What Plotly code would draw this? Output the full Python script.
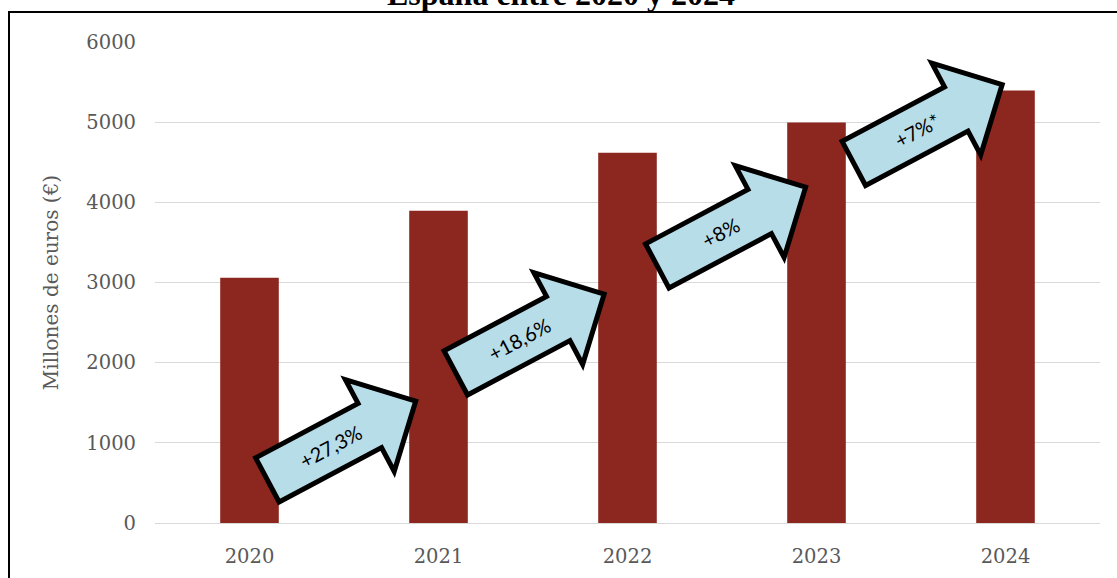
import math
import plotly.graph_objects as go

# Annual spending, millions of euros
years = ["2020", "2021", "2022", "2023", "2024"]
spend = [3060, 3895, 4620, 4995, 5395]
growth_labels = ["+27,3%", "+18,6%", "+8%", "+7%*"]

title_text = "España entre 2020 y 2024"
y_title = "Millones de euros (€)"

W, H = 1117, 578
M_L, M_R, M_T, M_B = 155, 17, 42, 55
PLOT_W = W - M_L - M_R
PLOT_H = H - M_T - M_B
Y_MAX = 6000
PX_X = PLOT_W / len(years)   # pixels per category unit
PX_Y = PLOT_H / Y_MAX        # pixels per euro-million

BAR_COLOR = "#8b271e"
ARROW_FILL = "#b7dde8"
GRID = "#d9d9d9"
TICK_FONT = dict(family="DejaVu Serif", size=19.5, color="#595959")

xs = list(range(len(years)))

fig = go.Figure(go.Bar(x=xs, y=spend, width=0.31, marker=dict(color=BAR_COLOR, line=dict(width=0)),
                       hoverinfo="skip"))


def to_data(px, py):
    return px / PX_X, py / PX_Y


def arrow_shape(cx, cy, ang, L=168, sw=50, hw=104, hl=52):
    """Block arrow centred at (cx, cy) in data units, rotated by ang degrees."""
    a = math.radians(ang)
    local = [(-L / 2, -sw / 2), (L / 2 - hl, -sw / 2), (L / 2 - hl, -hw / 2), (L / 2, 0),
             (L / 2 - hl, hw / 2), (L / 2 - hl, sw / 2), (-L / 2, sw / 2)]
    pts = []
    for s, t in local:
        px = s * math.cos(a) - t * math.sin(a)
        py = s * math.sin(a) + t * math.cos(a)
        dx, dy = to_data(px, py)
        pts.append((cx + dx, cy + dy))
    path = "M " + " L ".join(f"{x:.4f},{y:.2f}" for x, y in pts) + " Z"
    return dict(type="path", xref="x", yref="y", path=path, fillcolor=ARROW_FILL,
                line=dict(color="black", width=5), layer="above")


# growth arrows sit between consecutive bars
arrow_pos = [(0.487, 1029), (1.484, 2364), (2.550, 3698), (3.590, 4977)]
ANG = 28
shapes = []
annotations = []
for (cx, cy), lab in zip(arrow_pos, growth_labels):
    shapes.append(arrow_shape(cx, cy, ANG))
    off = -12
    dx, dy = to_data(off * math.cos(math.radians(ANG)), off * math.sin(math.radians(ANG)))
    annotations.append(dict(x=cx + dx, y=cy + dy, xref="x", yref="y", text=lab, showarrow=False,
                            textangle=-ANG, font=dict(family="Lato", size=20, color="black")))

# outer frame of the chart
shapes.append(dict(type="rect", xref="paper", yref="paper",
                   x0=(9 - M_L) / PLOT_W, x1=(W + 5 - M_L) / PLOT_W,
                   y0=(M_T + PLOT_H - (H + 5)) / PLOT_H, y1=(M_T + PLOT_H - 12) / PLOT_H,
                   line=dict(color="black", width=2), fillcolor="rgba(0,0,0,0)", layer="above"))

annotations.append(dict(x=(561 - M_L) / PLOT_W, y=(M_T + PLOT_H - 14) / PLOT_H, xref="paper", yref="paper",
                        xanchor="center", yanchor="bottom", showarrow=False,
                        text=f"<b>{title_text}</b>",
                        font=dict(family="Liberation Serif", size=32, color="black")))

fig.update_layout(
    width=W, height=H,
    margin=dict(l=M_L, r=M_R, t=M_T, b=M_B, autoexpand=False),
    paper_bgcolor="white", plot_bgcolor="white",
    showlegend=False,
    shapes=shapes, annotations=annotations,
    xaxis=dict(range=[-0.5, len(years) - 0.5], tickvals=xs, ticktext=years, tickfont=TICK_FONT,
               showgrid=False, showline=True, linecolor=GRID, linewidth=1, zeroline=False,
               ticks="", ticklabelstandoff=16, fixedrange=True),
    yaxis=dict(range=[0, Y_MAX], dtick=1000, tickfont=TICK_FONT, showgrid=True, gridcolor=GRID,
               gridwidth=1, zeroline=False, showline=False, ticks="", ticklabelstandoff=18,
               title=dict(text=y_title, font=dict(family="DejaVu Serif", size=20, color="#595959"),
                          standoff=22),
               fixedrange=True),
)

fig.write_html("out.html")
